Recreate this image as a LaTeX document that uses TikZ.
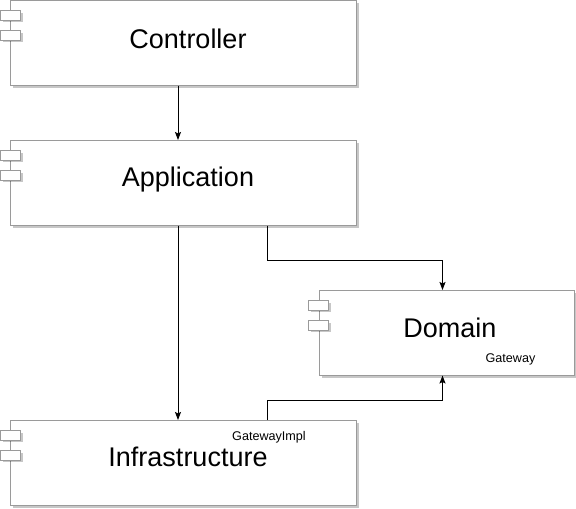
\documentclass[tikz,border=0pt]{standalone}
\usepackage{fontspec}
\setmainfont{Liberation Sans}
\usetikzlibrary{arrows.meta,shadows}
\definecolor{edge}{HTML}{9A9A9A}
\tikzset{
  compbox/.style={draw=edge, fill=white, line width=1pt, inner sep=0pt,
    drop shadow={shadow xshift=2.5pt, shadow yshift=-2.5pt, fill=black, opacity=0.22}},
  tab/.style={draw=edge, fill=white, line width=1pt, inner sep=0pt, minimum width=20pt, minimum height=9.5pt,
    drop shadow={shadow xshift=2pt, shadow yshift=-2pt, fill=black, opacity=0.22}},
  big/.style={font=\fontsize{27}{31}\selectfont, inner sep=0pt},
  small/.style={font=\fontsize{12.6}{15}\selectfont, inner sep=0pt},
  arr/.style={draw=black, line width=1pt, -{Stealth[length=8pt,width=6pt,inset=1.5pt]}}
}
\begin{document}
\begin{tikzpicture}[x=1pt,y=-1pt]
\useasboundingbox[fill=white] (0,0) rectangle (576,509);
% boxes
\node[compbox, minimum width=345.5pt, minimum height=84.5pt] (ctrl) at (183.25,42.75) {};
\node[compbox, minimum width=345.5pt, minimum height=84.5pt] (app) at (183.25,182.75) {};
\node[compbox, minimum width=255pt, minimum height=84.5pt] (dom) at (446.5,332.75) {};
\node[compbox, minimum width=345.5pt, minimum height=84.5pt] (inf) at (183.25,462.75) {};
% tabs
\node[tab] (ct1) at (10.5,15.25) {};
\node[tab] (ct2) at (10.5,35.25) {};
\node[tab] (at1) at (10.5,155.25) {};
\node[tab] (at2) at (10.5,175.25) {};
\node[tab] (dt1) at (318.5,305.25) {};
\node[tab] (dt2) at (318.5,325.25) {};
\node[tab] (it1) at (10.5,435.25) {};
\node[tab] (it2) at (10.5,455.25) {};
% labels
\node[big] (lc) at (188,39) {Controller};
\node[big] (la) at (188,180) {Application};
\node[big] (ld) at (450,328) {Domain};
\node[big] (li) at (188,457) {Infrastructure};
\node[small] (lg) at (510.5,359.5) {Gateway};
\node[small] (lgi) at (269,437.5) {GatewayImpl};
% connectors
\coordinate (xa) at (178,0);
\coordinate (xb) at (267,0);
\coordinate (xc) at (442.5,0);
\draw[arr] (ctrl.south -| xa) -- (app.north -| xa);
\draw[arr] (app.south -| xa) -- (inf.north -| xa);
\draw[arr] (app.south -| xb) -- ++(0,35) -| (dom.north -| xc);
\draw[arr] (inf.north -| xb) -- ++(0,-20) -| (dom.south -| xc);
\end{tikzpicture}
\end{document}
